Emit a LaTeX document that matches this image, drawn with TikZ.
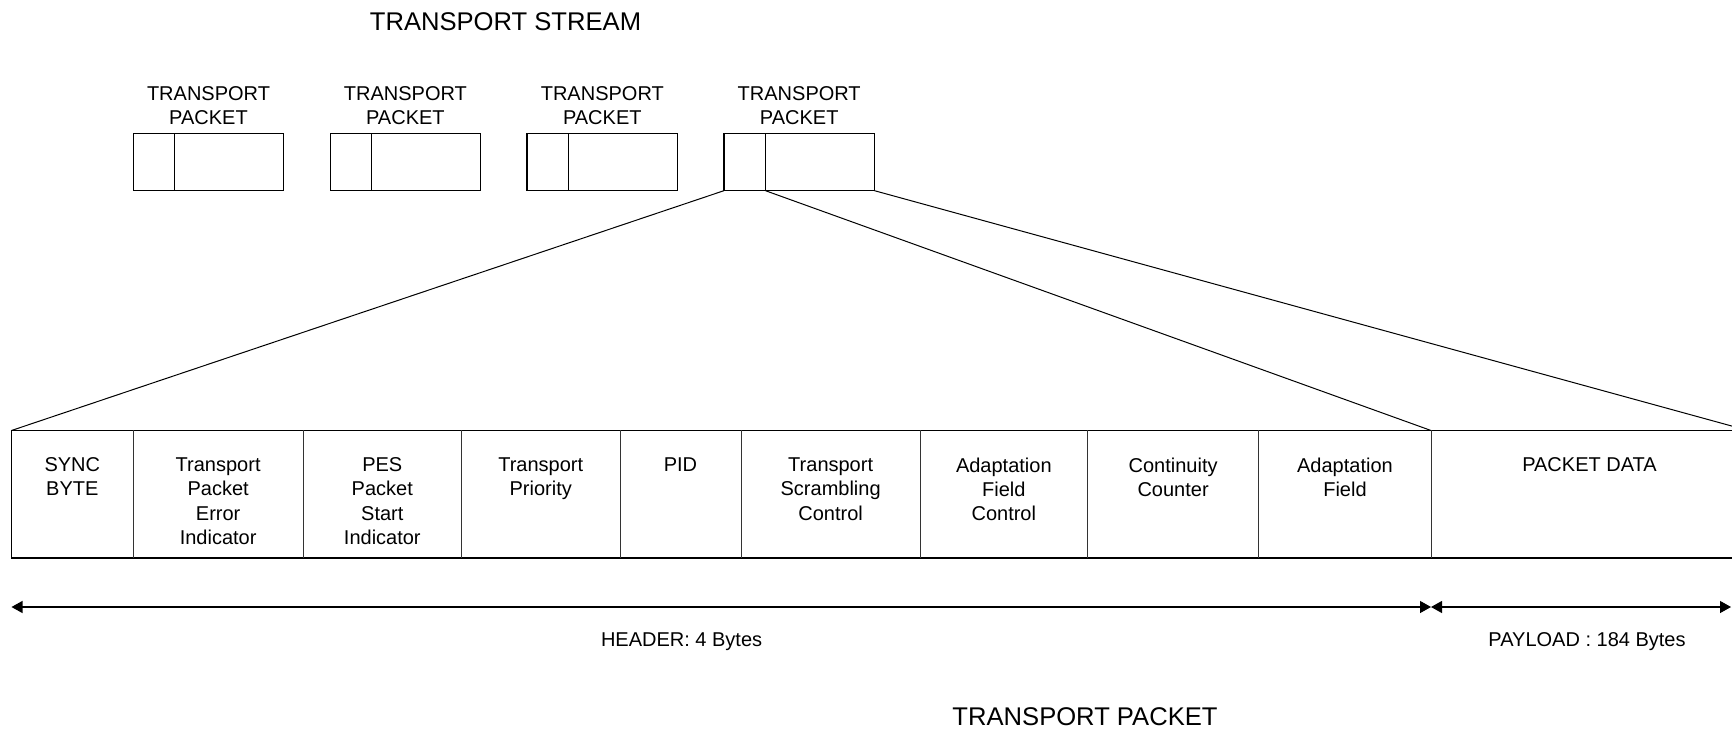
\documentclass[tikz,border=0pt]{standalone}
\usepackage{fontspec}
\setmainfont{Liberation Sans}
\usetikzlibrary{arrows.meta}
\begin{document}
\begin{tikzpicture}[x=0.5pt,y=-0.5pt,
  cellbox/.style={rectangle, inner sep=0pt, outer sep=0pt, minimum height=63.75pt, anchor=north west},
  celltext/.style={inner sep=0pt, anchor=north, align=center, font=\fontsize{10}{12.15}\selectfont},
  pkbox/.style={draw, line width=0.6pt, rectangle, inner sep=0pt, outer sep=0pt, minimum height=28.7pt, anchor=north west},
  pklabel/.style={inner sep=0pt, anchor=north, align=center, font=\fontsize{10}{12}\selectfont},
  bigtitle/.style={inner sep=0pt, anchor=base, font=\fontsize{12.8}{15}\selectfont},
  dimlabel/.style={inner sep=0pt, anchor=base, font=\fontsize{10}{12}\selectfont},
  outline/.style={line width=0.7pt},
  divider/.style={line width=0.45pt, black!80},
  zoomline/.style={line width=0.5pt},
  dimarrow/.style={line width=0.6pt, {Triangle[length=5.5pt,width=6pt]}-{Triangle[length=5.5pt,width=6pt]}}
]
\useasboundingbox (0,0) rectangle (1732,731);

% titles
\node[bigtitle] (ts) at (505.5,30.7) {TRANSPORT STREAM};
\node[bigtitle] (tp) at (1085,725) {TRANSPORT PACKET};

% transport stream packets
\node[pkbox, minimum width=20.8pt] (ph1) at (133.2,133.3) {};
\node[pkbox, minimum width=54.5pt, anchor=north west] (pb1) at (ph1.north east) {};
\node[pkbox, minimum width=20.8pt] (ph2) at (330.1,133.3) {};
\node[pkbox, minimum width=54.5pt, anchor=north west] (pb2) at (ph2.north east) {};
\node[pkbox, minimum width=20.8pt] (ph3) at (527.0,133.3) {};
\node[pkbox, minimum width=54.5pt, anchor=north west] (pb3) at (ph3.north east) {};
\node[pkbox, minimum width=20.8pt] (ph4) at (723.9,133.3) {};
\node[pkbox, minimum width=54.5pt, anchor=north west] (pb4) at (ph4.north east) {};

\node[pklabel] (l1) at (208.5,86) {TRANSPORT\\PACKET};
\node[pklabel] (l2) at (405.4,86) {TRANSPORT\\PACKET};
\node[pklabel] (l3) at (602.3,86) {TRANSPORT\\PACKET};
\node[pklabel] (l4) at (799.2,86) {TRANSPORT\\PACKET};

% packet cells
\node[cellbox, minimum width=60.85pt] (c1) at (11.5,430.5) {};
\node[cellbox, minimum width=84.95pt] (c2) at (133.2,430.5) {};
\node[cellbox, minimum width=79.2pt] (c3) at (303.1,430.5) {};
\node[cellbox, minimum width=79.25pt] (c4) at (461.5,430.5) {};
\node[cellbox, minimum width=60.5pt] (c5) at (620,430.5) {};
\node[cellbox, minimum width=89.65pt] (c6) at (741,430.5) {};
\node[cellbox, minimum width=83.5pt] (c7) at (920.3,430.5) {};
\node[cellbox, minimum width=85.8pt] (c8) at (1087.3,430.5) {};
\node[cellbox, minimum width=86.05pt] (c9) at (1258.9,430.5) {};
\node[cellbox, minimum width=158.5pt] (c10) at (1431,430.5) {};

\draw[outline] (c1.north west) rectangle (c10.south east);
\foreach \k in {1,...,9} {
  \draw[divider] (c\k.north east) -- (c\k.south east);
}

\node[celltext] (t1) at ([yshift=-13.4pt]c1.north) {SYNC\\BYTE};
\node[celltext] (t2) at ([yshift=-13.4pt]c2.north) {Transport\\Packet\\Error\\Indicator};
\node[celltext] (t3) at ([yshift=-13.4pt]c3.north) {PES\\Packet\\Start\\Indicator};
\node[celltext] (t4) at ([yshift=-13.4pt]c4.north) {Transport\\Priority};
\node[celltext] (t5) at ([yshift=-13.4pt]c5.north) {PID};
\node[celltext] (t6) at ([yshift=-13.4pt]c6.north) {Transport\\Scrambling\\Control};
\node[celltext] (t7) at ([yshift=-13.4pt]c7.north) {Adaptation\\Field\\Control};
\node[celltext] (t8) at ([yshift=-13.4pt]c8.north) {Continuity\\Counter};
\node[celltext] (t9) at ([yshift=-13.4pt]c9.north) {Adaptation\\Field};
\node[celltext] (t10) at ([yshift=-13.4pt]c10.north) {PACKET DATA};

% zoom lines
\draw[zoomline] (ph4.south west) -- (c1.north west);
\draw[zoomline] (ph4.south east) -- (c9.north east);
\draw[zoomline] (pb4.south east) -- (c10.north east);

% dimension arrows
\coordinate (hy) at (0,607);
\coordinate (pe) at (1731,607);
\draw[dimarrow] (c1.south west |- hy) -- (c9.south east |- hy);
\draw[dimarrow] (c10.south west |- hy) -- (pe);

\node[dimlabel] (hl) at (681.6,646.7) {HEADER: 4 Bytes};
\node[dimlabel] (pl) at (1587,646.7) {PAYLOAD : 184 Bytes};
\end{tikzpicture}
\end{document}
